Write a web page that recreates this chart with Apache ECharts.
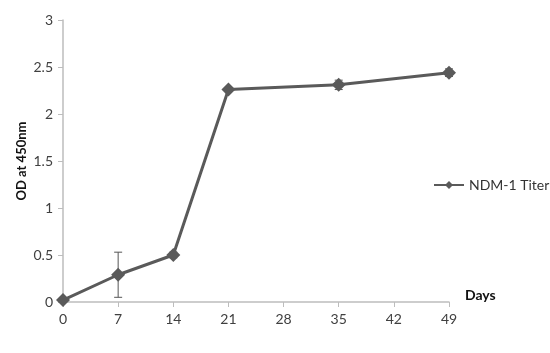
<!DOCTYPE html>
<html>
<head>
<meta charset="utf-8">
<script src="https://cdn.jsdelivr.net/npm/echarts@6/dist/echarts.min.js"></script>
<style>
  html, body { margin: 0; padding: 0; background: #fff; }
  #chart { width: 550px; height: 353px; }
</style>
</head>
<body>
<div id="chart"></div>
<script>
const days = [0, 7, 14, 21, 35, 49]
const titer = [0.02, 0.29, 0.50, 2.26, 2.31, 2.44]
const errors = [0.01, 0.24, 0.03, 0.02, 0.05, 0.04]
const seriesName = 'NDM-1 Titer'

const chart = echarts.init(document.getElementById('chart'))
const font = 'Lato, "Liberation Sans", sans-serif'

const lineData = days.map((d, i) => [d, titer[i]])
const errData = days.map((d, i) => [d, titer[i] - errors[i], titer[i] + errors[i]])

const option = {
  animation: false,
  textStyle: { fontFamily: font },
  grid: { left: 63, right: 101, top: 20, bottom: 51 },
  legend: {
    data: [seriesName],
    left: 428,
    top: 173,
    itemWidth: 30,
    itemHeight: 10,
    itemGap: 2,
    textStyle: { fontSize: 14, color: '#333', fontFamily: font }
  },
  xAxis: {
    type: 'value',
    min: 0,
    max: 49,
    interval: 7,
    name: 'Days',
    nameLocation: 'end',
    nameGap: 16,
    nameTextStyle: { fontWeight: 'bold', fontSize: 14, color: '#111', verticalAlign: 'bottom' },
    axisLine: { lineStyle: { color: '#bdbdbd', width: 1.5 } },
    axisTick: { show: true, length: 5, lineStyle: { color: '#bdbdbd' } },
    axisLabel: { fontSize: 14, color: '#404040', margin: 10 },
    splitLine: { show: false }
  },
  yAxis: {
    type: 'value',
    min: 0,
    max: 3,
    interval: 0.5,
    name: 'OD at 450nm',
    nameLocation: 'middle',
    nameRotate: 90,
    nameGap: 35,
    nameMoveOverlap: false,
    nameTextStyle: { fontWeight: 'bold', fontSize: 13, color: '#111' },
    axisLine: { show: true, lineStyle: { color: '#bdbdbd', width: 1.5 } },
    axisTick: { show: true, length: 5, lineStyle: { color: '#bdbdbd' } },
    axisLabel: { fontSize: 14, color: '#404040', margin: 10 },
    splitLine: { show: false }
  },
  series: [
    {
      name: 'err',
      type: 'custom',
      z: 1,
      silent: true,
      renderItem: function (params, api) {
        const x = api.value(0)
        const top = api.coord([x, api.value(2)])
        const bot = api.coord([x, api.value(1)])
        const cap = 4
        const style = { stroke: '#555', lineWidth: 1 }
        return {
          type: 'group',
          children: [
            { type: 'line', shape: { x1: top[0], y1: top[1], x2: bot[0], y2: bot[1] }, style: style },
            { type: 'line', shape: { x1: top[0] - cap, y1: top[1], x2: top[0] + cap, y2: top[1] }, style: style },
            { type: 'line', shape: { x1: bot[0] - cap, y1: bot[1], x2: bot[0] + cap, y2: bot[1] }, style: style }
          ]
        }
      },
      encode: { x: 0, y: [1, 2] },
      data: errData
    },
    {
      name: seriesName,
      type: 'line',
      z: 2,
      data: lineData,
      symbol: 'diamond',
      symbolSize: 14,
      lineStyle: { color: '#5a5a5a', width: 3 },
      itemStyle: { color: '#5a5a5a' }
    }
  ]
}
chart.setOption(option)
</script>
</body>
</html>
